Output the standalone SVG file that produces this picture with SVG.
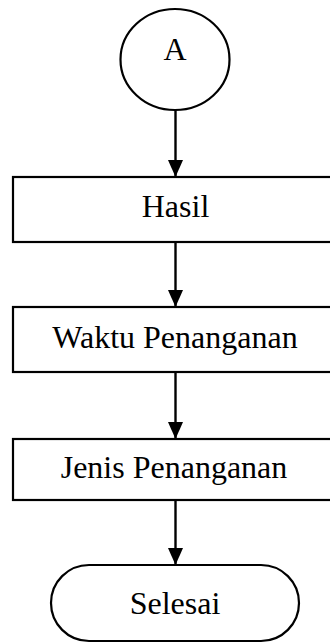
<svg xmlns="http://www.w3.org/2000/svg" width="330" height="643" viewBox="0 0 330 643">
<style>
.s{fill:#fff;stroke:#000;stroke-width:2.2}
.t{font-family:"Liberation Serif","Times New Roman",serif;font-size:32px;fill:#000;text-anchor:middle}
.c{stroke:#000;stroke-width:2.4;fill:none}
</style>
<defs>
<marker id="ah" markerUnits="userSpaceOnUse" markerWidth="18" markerHeight="16" refX="17" refY="7.5" orient="auto">
<path d="M0,0 L17,7.5 L0,15 Z" fill="#000"/>
</marker>
</defs>
<rect width="330" height="643" fill="#fff"/>
<g id="connectors">
<line class="c" x1="175.5" y1="110" x2="175.5" y2="177" marker-end="url(#ah)"/>
<line class="c" x1="175.5" y1="242" x2="175.5" y2="307" marker-end="url(#ah)"/>
<line class="c" x1="175.5" y1="372" x2="175.5" y2="439" marker-end="url(#ah)"/>
<line class="c" x1="175.5" y1="500" x2="175.5" y2="565" marker-end="url(#ah)"/>
</g>
<g id="nodeA">
<ellipse class="s" cx="175" cy="59.5" rx="54.5" ry="50.5"/>
<text class="t" x="175" y="60">A</text>
</g>
<g id="nodeHasil">
<rect class="s" x="13" y="177" width="330" height="65"/>
<text class="t" x="175.5" y="217">Hasil</text>
</g>
<g id="nodeWaktu">
<rect class="s" x="13" y="307" width="330" height="65"/>
<text class="t" x="175" y="348">Waktu Penanganan</text>
</g>
<g id="nodeJenis">
<rect class="s" x="13" y="439" width="330" height="61"/>
<text class="t" x="174" y="478">Jenis Penanganan</text>
</g>
<g id="nodeSelesai">
<rect class="s" x="51" y="565" width="248" height="76" rx="38" ry="38"/>
<text class="t" x="175" y="614">Selesai</text>
</g>
</svg>
